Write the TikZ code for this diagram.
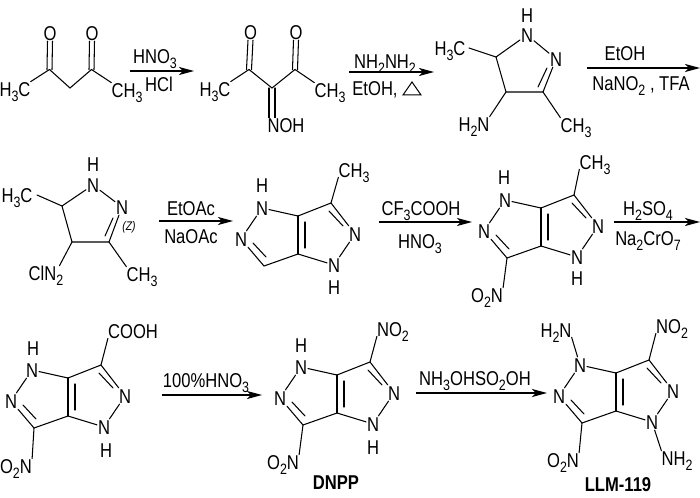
\documentclass[tikz,border=0pt]{standalone}
\usepackage{fontspec}
\setmainfont{Liberation Sans}[FakeStretch=0.83]
\usetikzlibrary{arrows.meta}
\newcommand{\sbs}[1]{\raisebox{-0.28em}{\fontsize{15}{16}\selectfont #1}}
\tikzset{
  atom/.style={inner sep=0.8pt,text height=14.3pt,text depth=0pt,font=\fontsize{20}{22}\selectfont},
  lab/.style={atom,inner sep=0pt},
  boldlab/.style={lab,font=\fontsize{20}{22}\selectfont\bfseries},
  small/.style={inner sep=0pt,font=\fontsize{12.5}{13}\selectfont\itshape},
  bond/.style={line width=1.05pt,line cap=round},
  rxn/.style={line width=1.05pt,-{Stealth[length=15pt,width=8pt,inset=4pt]}}
}
% pyrazolo-pyrazole core; #1 prefix, (#2,#3) ring-fusion carbon at top
\newcommand{\bicore}[3]{%
 \begin{scope}[shift={(#2,#3)}]
  \node[atom] (#1n1) at (-36,-8) {N};
  \node[atom] (#1n2) at (-57,23) {N};
  \node[atom] (#1n4) at (36,49) {N};
  \node[atom] (#1n5) at (57,18) {N};
  \coordinate (#1ca) at (0,0);
  \coordinate (#1cb) at (0,38);
  \coordinate (#1c3) at (-34,50);
  \coordinate (#1c6) at (33,-13);
  \draw[bond] (#1n1) -- (#1ca);
  \draw[bond] (#1n1) -- (#1n2);
  \draw[bond] (#1n2) -- (#1c3);
  \draw[bond] (#1c3) -- (#1cb);
  \draw[bond] (#1cb) -- (#1ca);
  \draw[bond] (#1cb) -- (#1n4);
  \draw[bond] (#1n4) -- (#1n5);
  \draw[bond] (#1n5) -- (#1c6);
  \draw[bond] (#1c6) -- (#1ca);
  \draw[bond] (7,6) -- (7,32);
  \draw[bond] (-45,27) -- (-32,41);
  \draw[bond] (31,-5) -- (45,10);
 \end{scope}}
\begin{document}
\begin{tikzpicture}[x=1pt,y=-1pt]
\useasboundingbox (0,0) rectangle (700,497);
\fill[white] (0,0) rectangle (700,497);

% Compound 1
\node[atom] (ao1) at (50,33) {O};
\node[atom] (ao2) at (92,33) {O};
\node[lab] (ame1) at (15,89) {H\sbs{3}C};
\node[lab] (ame2) at (127,90) {CH\sbs{3}};
\coordinate (ac1) at (49.5,69.5);
\coordinate (ac2) at (91.5,69.5);
\coordinate (ac3) at (70,88);
\draw[bond] (ame1.north east) -- (ac1) -- (ac3) -- (ac2) -- (ame2.north west);
\draw[bond] ([xshift=-2.5pt]ac1) -- ([xshift=-2.5pt]ao1.south);
\draw[bond] ([xshift=2.5pt]ac1) -- ([xshift=2.5pt]ao1.south);
\draw[bond] ([xshift=-2.5pt]ac2) -- ([xshift=-2.5pt]ao2.south);
\draw[bond] ([xshift=2.5pt]ac2) -- ([xshift=2.5pt]ao2.south);

% Arrow 1
\coordinate (r1s) at (130,71);
\coordinate (r1e) at (194,71);
\draw[rxn] (r1s) -- (r1e);
\node[lab] (r1a) at (155,56) {HNO\sbs{3}};
\node[lab] (r1b) at (159,84) {HCl};

% Compound 2
\node[atom] (bo1) at (250.5,32) {O};
\node[atom] (bo2) at (296,32) {O};
\node[lab] (bme1) at (215,89) {H\sbs{3}C};
\node[lab] (bme2) at (330,90) {CH\sbs{3}};
\node[lab] (bnoh) at (286,125) {NOH};
\coordinate (bc1) at (249,69.5);
\coordinate (bc2) at (295,69.5);
\coordinate (bc3) at (272,88);
\draw[bond] (bme1.north east) -- (bc1) -- (bc3) -- (bc2) -- (bme2.north west);
\draw[bond] ([xshift=-2.5pt]bc1) -- ([xshift=-2.5pt]bo1.south);
\draw[bond] ([xshift=2.5pt]bc1) -- ([xshift=2.5pt]bo1.south);
\draw[bond] ([xshift=-2.5pt]bc2) -- ([xshift=-2.5pt]bo2.south);
\draw[bond] ([xshift=2.5pt]bc2) -- ([xshift=2.5pt]bo2.south);
\draw[bond] ([xshift=-3pt]bc3) -- ([xshift=-3pt]bc3 |- bnoh.north);
\draw[bond] ([xshift=3pt]bc3) -- ([xshift=3pt]bc3 |- bnoh.north);

% Arrow 2
\coordinate (r2s) at (349,72);
\coordinate (r2e) at (434,72);
\draw[rxn] (r2s) -- (r2e);
\node[lab] (r2a) at (385,61) {NH\sbs{2}NH\sbs{2}};
\node[lab] (r2b) at (375,88) {EtOH,};
\draw[line width=1pt] (403,95) -- (412,82) -- (421,95) -- cycle;

% Compound 3
\node[lab] (ch) at (527,15) {H};
\node[atom] (cn1) at (527,35) {N};
\node[atom] (cn2) at (556,59) {N};
\node[lab] (cme1) at (450,48) {H\sbs{3}C};
\node[lab] (cnh2) at (474,124) {H\sbs{2}N};
\node[lab] (cme2) at (576,125) {CH\sbs{3}};
\coordinate (cc5) at (496,57);
\coordinate (cc4) at (506,92);
\coordinate (cc3) at (543,92);
\draw[bond] (cn1) -- (cn2);
\draw[bond] (cn2) -- (cc3) -- (cc4) -- (cc5) -- (cn1);
\draw[bond] (538,87) -- (547,68);
\draw[bond] ([xshift=19pt]cme1.center) -- (cc5);
\draw[bond] (cc4) -- (cnh2.north east);
\draw[bond] (cc3) -- (cme2.north west);

% Arrow 3
\coordinate (r3s) at (587,68);
\coordinate (r3e) at (700,68);
\draw[rxn] (r3s) -- (r3e);
\node[lab] (r3a) at (625,53) {EtOH};
\node[lab] (r3b) at (641,83) {NaNO\sbs{2} , TFA};

% Compound 4
\node[lab] (dh) at (93,164) {H};
\node[atom] (dn1) at (93,185) {N};
\node[atom] (dn2) at (122,207) {N};
\node[lab] (dme1) at (17,195) {H\sbs{3}C};
\node[lab] (dcl) at (46,273) {ClN\sbs{2}};
\node[lab] (dme2) at (142,274) {CH\sbs{3}};
\node[small] (dz) at (129,227) {(Z)};
\coordinate (dc5) at (62,206);
\coordinate (dc4) at (72,242);
\coordinate (dc3) at (109,242);
\draw[bond] (dn1) -- (dn2);
\draw[bond] (dn2) -- (dc3) -- (dc4) -- (dc5) -- (dn1);
\draw[bond] (105,236) -- (113,218);
\draw[bond] ([xshift=20pt]dme1.center) -- (dc5);
\draw[bond] (dc4) -- ([xshift=-4pt]dcl.north east);
\draw[bond] (dc3) -- (dme2.north west);

% Arrow 4
\coordinate (r4s) at (159,221);
\coordinate (r4e) at (233,221);
\draw[rxn] (r4s) -- (r4e);
\node[lab] (r4a) at (191,208) {EtOAc};
\node[lab] (r4b) at (191,236) {NaOAc};

% Compound 5
\bicore{e}{298}{216}
\node[lab] (eh1) at (262,185) {H};
\node[lab] (eh2) at (334,287) {H};
\node[lab] (eme) at (354,170) {CH\sbs{3}};
\draw[bond] (ec6) -- (eme.south west);

% Arrow 5
\coordinate (r5s) at (379,222);
\coordinate (r5e) at (472,222);
\draw[rxn] (r5s) -- (r5e);
\node[lab] (r5a) at (421,208) {CF\sbs{3}COOH};
\node[lab] (r5b) at (420,241) {HNO\sbs{3}};

% Compound 6
\bicore{f}{541}{208}
\node[lab] (fh1) at (504,177) {H};
\node[lab] (fh2) at (577,278) {H};
\node[lab] (fme) at (595,162) {CH\sbs{3}};
\node[lab] (fno) at (487,295) {O\sbs{2}N};
\draw[bond] (fc6) -- (fme.south west);
\draw[bond] (fc3) -- (fno.north east);

% Arrow 6
\coordinate (r6s) at (614,222);
\coordinate (r6e) at (700,222);
\draw[rxn] (r6s) -- (r6e);
\node[lab] (r6a) at (648,208) {H\sbs{2}SO\sbs{4}};
\node[lab] (r6b) at (648,238) {Na\sbs{2}CrO\sbs{7}};

% Compound 7
\bicore{g}{68}{378}
\node[lab] (gh1) at (33,348) {H};
\node[lab] (gh2) at (106,450) {H};
\node[lab] (gco) at (133,331) {COOH};
\node[lab] (gno) at (16,466) {O\sbs{2}N};
\draw[bond] (gc6) -- (gco.south west);
\draw[bond] (gc3) -- (gno.north east);

% Arrow 7
\coordinate (r7s) at (162,395);
\coordinate (r7e) at (262,395);
\draw[rxn] (r7s) -- (r7e);
\node[lab] (r7a) at (206,380) {100\%HNO\sbs{3}};

% Compound 8 DNPP
\bicore{h}{337}{375}
\node[lab] (hh1) at (301,345) {H};
\node[lab] (hh2) at (373,447) {H};
\node[lab] (hno1) at (393,329) {NO\sbs{2}};
\node[lab] (hno2) at (283,462) {O\sbs{2}N};
\draw[bond] (hc6) -- (hno1.south west);
\draw[bond] (hc3) -- (hno2.north east);
\node[boldlab] (hname) at (336,482) {DNPP};

% Arrow 8
\coordinate (r8s) at (416,393);
\coordinate (r8e) at (547,393);
\draw[rxn] (r8s) -- (r8e);
\node[lab] (r8a) at (475,378) {NH\sbs{3}OHSO\sbs{2}OH};

% LLM-119
\bicore{k}{616}{373}
\node[lab] (knh1) at (556,330) {H\sbs{2}N};
\node[lab] (knh2) at (677,458) {NH\sbs{2}};
\node[lab] (kno1) at (672,326) {NO\sbs{2}};
\node[lab] (kno2) at (563,460) {O\sbs{2}N};
\draw[bond] (kc6) -- (kno1.south west);
\draw[bond] (kc3) -- (kno2.north east);
\draw[bond] (kn1) -- (knh1.south east);
\draw[bond] (kn4) -- (knh2.north west);
\node[boldlab] (kname) at (618,484) {LLM-119};
\end{tikzpicture}
\end{document}
